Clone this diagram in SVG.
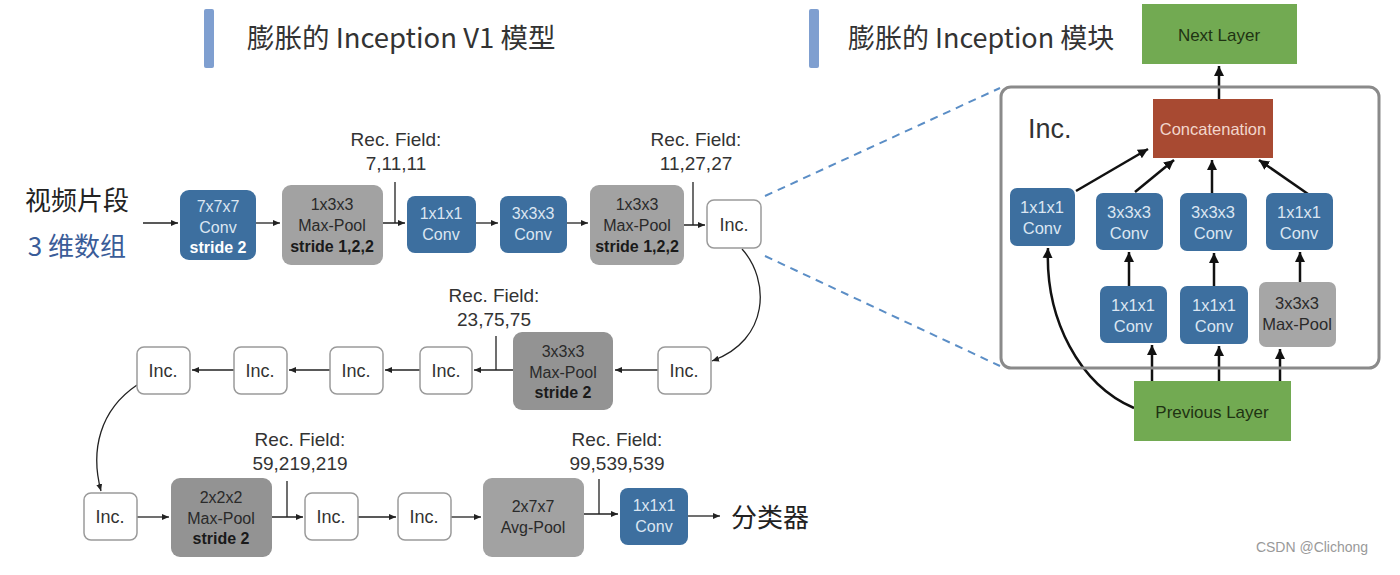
<svg xmlns="http://www.w3.org/2000/svg" width="1400" height="575" viewBox="0 0 1400 575">
<style>
text{font-family:"Liberation Sans","Noto Sans CJK SC",sans-serif;text-anchor:middle}
.cjk{font-family:"Noto Sans CJK SC","Liberation Sans",sans-serif}
.blue{fill:#3d6f9f}
.bt{fill:#dbe6f2;font-size:16px}
.mt{fill:#dbe6f2;font-size:16.5px}
.grey{fill:#a2a2a2}
.dgrey{fill:#939393}
.gt{fill:#2a2a2a;font-size:16px}
.inc{fill:#fff;stroke:#9a9a9a;stroke-width:1.5}
.it{fill:#333;font-size:18px}
.rf{fill:#333;font-size:19px}
.ln{stroke:#222;stroke-width:1.3;fill:none}
.th{stroke:#111;stroke-width:2.5;fill:none}
.dash{stroke:#5b8ec6;stroke-width:2;stroke-dasharray:8,6;fill:none}
.green{fill:#72aa52}
</style>
<defs>
<marker id="a" markerWidth="8" markerHeight="8" refX="7" refY="4" orient="auto" markerUnits="userSpaceOnUse"><path d="M0,1 L7,4 L0,7 z" fill="#222"/></marker>
<marker id="b" markerWidth="12" markerHeight="12" refX="10" refY="6" orient="auto" markerUnits="userSpaceOnUse"><path d="M0,1 L10,6 L0,11 z" fill="#111"/></marker>
</defs>
<rect width="1400" height="575" fill="#fff"/>
<g id="titles">
<rect x="204" y="9" width="10" height="59" rx="2" fill="#7f9fd0"/>
<text x="247" y="48" class="cjk" style="text-anchor:start;font-size:27.5px;fill:#333">膨胀的 Inception V1 模型</text>
<rect x="809" y="9" width="10" height="59" rx="2" fill="#7f9fd0"/>
<text x="848" y="48" class="cjk" style="text-anchor:start;font-size:27px;fill:#333">膨胀的 Inception 模块</text>
</g>
<g id="input">
<text x="77" y="210" class="cjk" style="font-size:26px;fill:#222">视频片段</text>
<text x="77" y="256" class="cjk" style="font-size:26px;fill:#3a5c98">3 维数组</text>
</g>
<g id="connectors">
<path class="ln" d="M143,223 H178" marker-end="url(#a)"/>
<path class="ln" d="M256,223 H280" marker-end="url(#a)"/>
<path class="ln" d="M395,182 V223 M383,223 H405" marker-end="url(#a)"/>
<path class="ln" d="M476,223 H498" marker-end="url(#a)"/>
<path class="ln" d="M567,223 H588" marker-end="url(#a)"/>
<path class="ln" d="M693,182 V225 M684,225 H705" marker-end="url(#a)"/>
<path class="ln" d="M742,249 C770,280 770,340 712,361" marker-end="url(#a)"/>
<path class="ln" d="M658,370 H615" marker-end="url(#a)"/>
<path class="ln" d="M496,336 V370 M513,370 H474" marker-end="url(#a)"/>
<path class="ln" d="M420,370 H385" marker-end="url(#a)"/>
<path class="ln" d="M330,370 H289" marker-end="url(#a)"/>
<path class="ln" d="M234,370 H192" marker-end="url(#a)"/>
<path class="ln" d="M137,385 C100,410 90,450 101,491" marker-end="url(#a)"/>
<path class="ln" d="M137,517 H169" marker-end="url(#a)"/>
<path class="ln" d="M287,481 V517 M272,517 H303" marker-end="url(#a)"/>
<path class="ln" d="M358,517 H396" marker-end="url(#a)"/>
<path class="ln" d="M451,517 H481" marker-end="url(#a)"/>
<path class="ln" d="M599,479 V514 M584,514 H618" marker-end="url(#a)"/>
<path class="ln" d="M688,516 H720" marker-end="url(#a)"/>
<path class="dash" d="M765,196 L1000,88 M765,256 L1000,366"/>
<path class="th" d="M1219,99 V66" marker-end="url(#b)"/>
<path class="th" d="M1076,191 L1148,149" marker-end="url(#b)"/>
<path class="th" d="M1135,192 L1174,160" marker-end="url(#b)"/>
<path class="th" d="M1212,193 V160" marker-end="url(#b)"/>
<path class="th" d="M1308,194 L1259,160" marker-end="url(#b)"/>
<path class="th" d="M1129,286 V252" marker-end="url(#b)"/>
<path class="th" d="M1214,286 V253" marker-end="url(#b)"/>
<path class="th" d="M1300,282 V252" marker-end="url(#b)"/>
<path class="th" d="M1152,381 V345" marker-end="url(#b)"/>
<path class="th" d="M1219,381 V346" marker-end="url(#b)"/>
<path class="th" d="M1280,381 V349" marker-end="url(#b)"/>
<path class="th" d="M1134,408 C1080,385 1045,320 1048,248" marker-end="url(#b)"/>
</g>
<g id="labels">
<text x="396" y="146" class="rf">Rec. Field:</text><text x="396" y="170" class="rf">7,11,11</text>
<text x="696" y="146" class="rf">Rec. Field:</text><text x="696" y="170" class="rf">11,27,27</text>
<text x="494" y="302" class="rf">Rec. Field:</text><text x="494" y="326" class="rf">23,75,75</text>
<text x="300" y="446" class="rf">Rec. Field:</text><text x="300" y="470" class="rf">59,219,219</text>
<text x="617" y="446" class="rf">Rec. Field:</text><text x="617" y="470" class="rf">99,539,539</text>
</g>
<g id="conv7"><rect x="180" y="190" width="76" height="70" rx="9" class="blue"/><text x="218" y="212" class="bt">7x7x7</text><text x="218" y="233" class="bt">Conv</text><text x="218" y="253" class="bt" style="font-weight:bold;fill:#fff">stride 2</text></g>
<g id="pool1"><rect x="282" y="185" width="101" height="80" rx="9" class="grey"/><text x="332" y="210" class="gt">1x3x3</text><text x="332" y="231" class="gt">Max-Pool</text><text x="332" y="252" class="gt" style="font-weight:bold;fill:#1a1a1a">stride 1,2,2</text></g>
<g id="conv1a"><rect x="407" y="196" width="69" height="57" rx="8" class="blue"/><text x="441" y="219" class="bt">1x1x1</text><text x="441" y="240" class="bt">Conv</text></g>
<g id="conv3a"><rect x="500" y="196" width="67" height="57" rx="8" class="blue"/><text x="533" y="219" class="bt">3x3x3</text><text x="533" y="240" class="bt">Conv</text></g>
<g id="pool2"><rect x="590" y="185" width="94" height="80" rx="9" class="grey"/><text x="637" y="210" class="gt">1x3x3</text><text x="637" y="231" class="gt">Max-Pool</text><text x="637" y="252" class="gt" style="font-weight:bold;fill:#1a1a1a">stride 1,2,2</text></g>
<g id="inc1"><rect x="707" y="200" width="54" height="48" rx="7" class="inc"/><text x="734" y="231" class="it">Inc.</text></g>
<g id="inc2"><rect x="658" y="347" width="53" height="47" rx="7" class="inc"/><text x="684" y="377" class="it">Inc.</text></g>
<g id="pool3"><rect x="513" y="332" width="100" height="78" rx="9" class="dgrey"/><text x="563" y="357" class="gt">3x3x3</text><text x="563" y="378" class="gt">Max-Pool</text><text x="563" y="398" class="gt" style="font-weight:bold;fill:#1a1a1a">stride 2</text></g>
<g id="inc3"><rect x="420" y="347" width="52" height="47" rx="7" class="inc"/><text x="446" y="377" class="it">Inc.</text></g>
<g id="inc4"><rect x="330" y="347" width="53" height="47" rx="7" class="inc"/><text x="356" y="377" class="it">Inc.</text></g>
<g id="inc5"><rect x="234" y="347" width="53" height="47" rx="7" class="inc"/><text x="260" y="377" class="it">Inc.</text></g>
<g id="inc6"><rect x="137" y="347" width="53" height="47" rx="7" class="inc"/><text x="163" y="377" class="it">Inc.</text></g>
<g id="inc7"><rect x="84" y="493" width="53" height="47" rx="7" class="inc"/><text x="110" y="523" class="it">Inc.</text></g>
<g id="pool4"><rect x="171" y="478" width="101" height="79" rx="9" class="dgrey"/><text x="221" y="503" class="gt">2x2x2</text><text x="221" y="524" class="gt">Max-Pool</text><text x="221" y="544" class="gt" style="font-weight:bold;fill:#1a1a1a">stride 2</text></g>
<g id="inc8"><rect x="305" y="493" width="53" height="47" rx="7" class="inc"/><text x="331" y="523" class="it">Inc.</text></g>
<g id="inc9"><rect x="398" y="493" width="53" height="47" rx="7" class="inc"/><text x="424" y="523" class="it">Inc.</text></g>
<g id="avgpool"><rect x="483" y="478" width="101" height="79" rx="9" class="grey"/><text x="533" y="512" class="gt">2x7x7</text><text x="533" y="533" class="gt">Avg-Pool</text></g>
<g id="convout"><rect x="620" y="488" width="68" height="57" rx="8" class="blue"/><text x="654" y="511" class="bt">1x1x1</text><text x="654" y="532" class="bt">Conv</text></g>
<g id="classifier"><text x="770" y="527" class="cjk" style="font-size:26px;fill:#222">分类器</text></g>
<g id="incmodule">
<rect x="1001" y="87" width="378" height="281" rx="10" fill="none" stroke="#8a8a8a" stroke-width="3"/>
<text x="1028" y="138" style="text-anchor:start;font-size:27px;fill:#333">Inc.</text>
</g>
<g id="nextlayer"><rect x="1142" y="4" width="155" height="60" class="green"/><text x="1219" y="41" style="font-size:17px;fill:#1f3313">Next Layer</text></g>
<g id="concat"><rect x="1153" y="99" width="120" height="59" fill="#a84a32"/><text x="1213" y="135" style="font-size:16.5px;fill:#f2d6cc">Concatenation</text></g>
<g id="m_c1"><rect x="1010" y="188" width="65" height="58" rx="7" class="blue"/><text x="1042" y="213" class="mt">1x1x1</text><text x="1042" y="234" class="mt">Conv</text></g>
<g id="m_c3a"><rect x="1096" y="193" width="67" height="57" rx="7" class="blue"/><text x="1129" y="218" class="mt">3x3x3</text><text x="1129" y="239" class="mt">Conv</text></g>
<g id="m_c3b"><rect x="1180" y="193" width="67" height="58" rx="7" class="blue"/><text x="1213" y="218" class="mt">3x3x3</text><text x="1213" y="239" class="mt">Conv</text></g>
<g id="m_c1b"><rect x="1266" y="193" width="67" height="57" rx="7" class="blue"/><text x="1299" y="218" class="mt">1x1x1</text><text x="1299" y="239" class="mt">Conv</text></g>
<g id="m_c1c"><rect x="1100" y="286" width="67" height="57" rx="7" class="blue"/><text x="1133" y="311" class="mt">1x1x1</text><text x="1133" y="332" class="mt">Conv</text></g>
<g id="m_c1d"><rect x="1180" y="286" width="68" height="58" rx="7" class="blue"/><text x="1214" y="311" class="mt">1x1x1</text><text x="1214" y="332" class="mt">Conv</text></g>
<g id="m_pool"><rect x="1259" y="282" width="77" height="65" rx="7" fill="#a6a6a6"/><text x="1297" y="309" class="gt" style="font-size:16.5px">3x3x3</text><text x="1297" y="330" class="gt" style="font-size:16.5px">Max-Pool</text></g>
<g id="prevlayer"><rect x="1134" y="381" width="157" height="60" class="green"/><text x="1212" y="418" style="font-size:17px;fill:#1f3313">Previous Layer</text></g>
<g id="watermark"><text x="1312" y="552" style="font-size:14px;fill:#999">CSDN @Clichong</text></g>
</svg>
